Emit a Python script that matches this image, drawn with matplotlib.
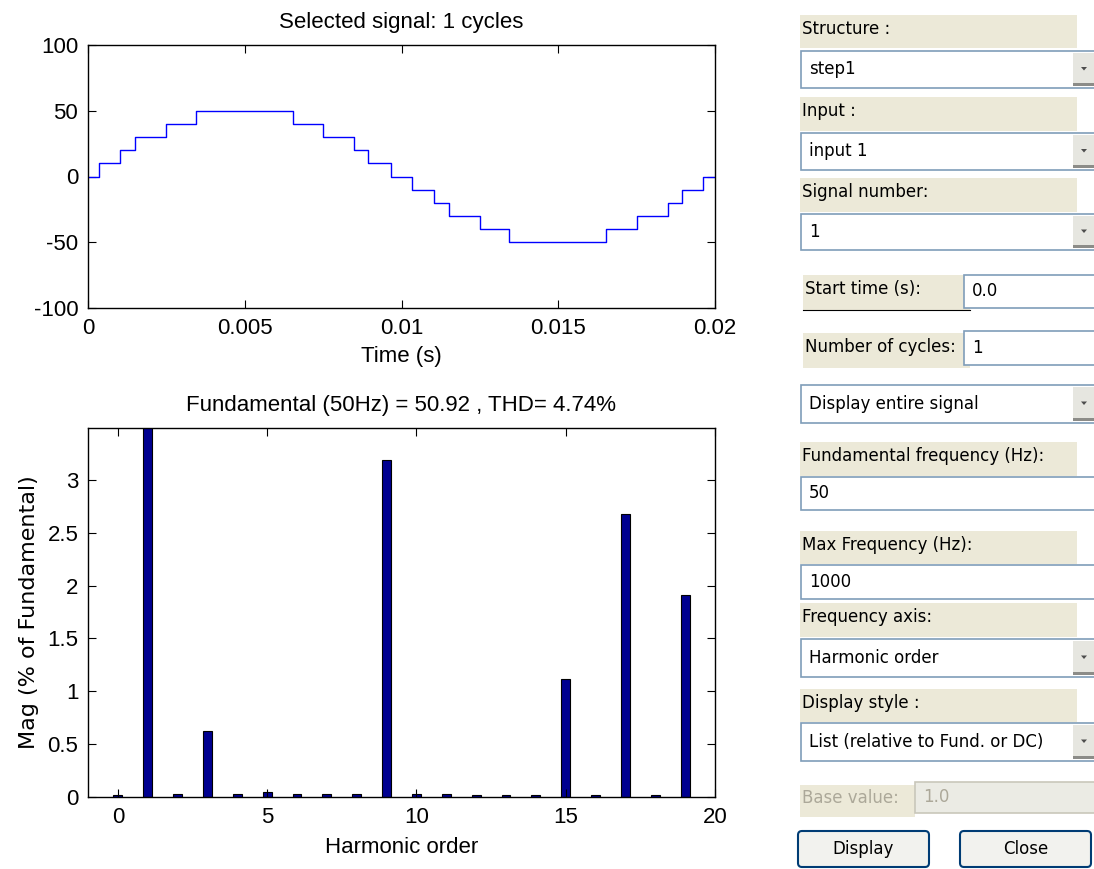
import matplotlib
matplotlib.use("Agg")
import matplotlib.pyplot as plt
from matplotlib.patches import Rectangle, FancyBboxPatch, Polygon
from matplotlib.ticker import FormatStrFormatter

# stepped signal: switching instants (s) and the level held after each one
switch_times = [0, 0.00035, 0.00103, 0.0015, 0.0025, 0.00343, 0.00655, 0.0075,
                0.00848, 0.00893, 0.00965, 0.01033, 0.01103, 0.0115, 0.0125,
                0.01343, 0.01653, 0.0175, 0.0185, 0.01895, 0.01963, 0.02]
levels = [0, 10, 20, 30, 40, 50, 40, 30, 20, 10, 0, -10, -20, -30, -40, -50,
          -40, -30, -20, -10, 0, 0]

# FFT result (% of fundamental)
harmonic_order = list(range(20))
harmonic_mag = [0.016, 100, 0.03, 0.62, 0.03, 0.047, 0.03, 0.03, 0.03, 3.19,
                0.03, 0.03, 0.016, 0.016, 0.016, 1.12, 0.016, 2.68, 0.016, 1.91]

top_title = "Selected signal: 1 cycles"
fft_title = "Fundamental (50Hz) = 50.92 , THD= 4.74%"

W, H = 1094, 869
fig = plt.figure(figsize=(W / 100, H / 100), dpi=100, facecolor="white")
plt.rcParams["font.family"] = ["Liberation Sans", "DejaVu Sans"]
FS = 16


def px_axes(x0, y0, x1, y1):
    return fig.add_axes([x0 / W, 1 - y1 / H, (x1 - x0) / W, (y1 - y0) / H])


def style(ax):
    ax.tick_params(direction="in", top=True, right=True, length=6, width=0.8,
                   labelsize=FS, pad=7)
    for s in ax.spines.values():
        s.set_linewidth(1.0)


# --- time signal
ax1 = px_axes(88, 45, 715, 308)
ax1.step(switch_times, levels, where="post", color="blue", lw=1.0)
ax1.set_xlim(0, 0.02)
ax1.set_ylim(-100, 100)
ax1.set_xticks([0, 0.005, 0.01, 0.015, 0.02])
ax1.set_yticks([-100, -50, 0, 50, 100])
ax1.xaxis.set_major_formatter(FormatStrFormatter("%g"))
ax1.yaxis.set_major_formatter(FormatStrFormatter("%g"))
ax1.set_title(top_title, fontsize=FS, pad=12)
ax1.set_xlabel("Time (s)", fontsize=FS, labelpad=5)
style(ax1)

# --- harmonic spectrum
ax2 = px_axes(88, 428, 715, 797)
ax2.bar(harmonic_order, harmonic_mag, width=0.3, color="#000090",
        edgecolor="black", lw=0.8)
ax2.set_xlim(-1, 20)
ax2.set_ylim(0, 3.49)
ax2.set_xticks([0, 5, 10, 15, 20])
ax2.set_yticks([0, 0.5, 1, 1.5, 2, 2.5, 3])
ax2.yaxis.set_major_formatter(FormatStrFormatter("%g"))
ax2.set_title(fft_title, fontsize=FS, pad=12)
ax2.set_xlabel("Harmonic order", fontsize=FS, labelpad=7)
ax2.set_ylabel("Mag (% of Fundamental)", fontsize=16, family="DejaVu Sans",
               labelpad=6)
style(ax2)

# --- right-hand control panel
gui = fig.add_axes([0, 0, 1, 1], facecolor="none")
gui.set_xlim(0, W)
gui.set_ylim(H, 0)
gui.axis("off")
GFS = 12
LABEL_BG = "#ECE9D8"
EDGE = "#7F9DB9"


def label(x0, y0, x1, y1, text, color="black"):
    gui.add_patch(Rectangle((x0, y0), x1 - x0, y1 - y0, facecolor=LABEL_BG,
                            edgecolor="none"))
    gui.text(x0 + 2, (y0 + y1) / 2 - 3, text, fontsize=GFS, color=color,
             family="DejaVu Sans", va="center", ha="left")


def entry(x0, y0, x1, y1, text, popup=False, bg="white", tcol="black",
          ecol=EDGE):
    gui.add_patch(Rectangle((x0, y0), x1 - x0, y1 - y0, facecolor=bg,
                            edgecolor=ecol, lw=1.2))
    gui.text(x0 + 8, (y0 + y1) / 2, text, fontsize=GFS, color=tcol,
             family="DejaVu Sans", va="center", ha="left")
    if popup:
        bx = 1073
        gui.add_patch(Rectangle((bx, y0 + 2), W - bx + 2, y1 - y0 - 4,
                                facecolor="#E6E6E0", edgecolor="none"))
        gui.add_patch(Rectangle((bx, y1 - 5), W - bx + 2, 3,
                                facecolor="#8C8C88", edgecolor="none"))
        cx, cy = bx + 11, (y0 + y1) / 2 - 1
        gui.add_patch(Polygon([(cx - 3, cy - 1.5), (cx + 3, cy - 1.5),
                               (cx, cy + 2)], closed=True,
                              facecolor="#4D4D4D", edgecolor="none"))


def button(x0, y0, x1, y1, text):
    gui.add_patch(FancyBboxPatch((x0, y0), x1 - x0, y1 - y0,
                                 boxstyle="round,pad=0,rounding_size=4",
                                 facecolor="#F2F2EE", edgecolor="#003C74",
                                 lw=1.5))
    gui.text((x0 + x1) / 2, (y0 + y1) / 2, text, fontsize=GFS,
             family="DejaVu Sans", va="center", ha="center")


label(800, 15, 1077, 48, "Structure :")
entry(801, 51, 1096, 88, "step1", popup=True)
label(800, 97, 1077, 131, "Input :")
entry(801, 133, 1096, 170, "input 1", popup=True)
label(800, 178, 1077, 212, "Signal number:")
entry(801, 214, 1096, 250, "1", popup=True)

label(803, 275, 970, 310, "Start time (s):")
gui.plot([803, 970], [310, 310], color="black", lw=0.8)
entry(964, 275, 1096, 308, "0.0")
label(803, 333, 970, 368, "Number of cycles:")
entry(964, 331, 1096, 365, "1")
entry(801, 385, 1096, 423, "Display entire signal", popup=True)

label(800, 442, 1077, 476, "Fundamental frequency (Hz):")
entry(801, 477, 1096, 510, "50")
label(800, 531, 1077, 564, "Max Frequency (Hz):")
entry(801, 565, 1096, 599, "1000")
label(800, 603, 1077, 637, "Frequency axis:")
entry(801, 639, 1096, 677, "Harmonic order", popup=True)
label(800, 689, 1077, 722, "Display style :")
entry(801, 723, 1096, 761, "List (relative to Fund. or DC)", popup=True)

label(800, 785, 915, 817, "Base value:", color="#ACA899")
entry(915, 782, 1096, 813, "1.0", bg="#EBEBE4", tcol="#ACA899",
      ecol="#C9C7BA")
button(798, 831, 929, 867, "Display")
button(960, 831, 1091, 867, "Close")

fig.savefig("out.png", dpi=100, facecolor="white")
